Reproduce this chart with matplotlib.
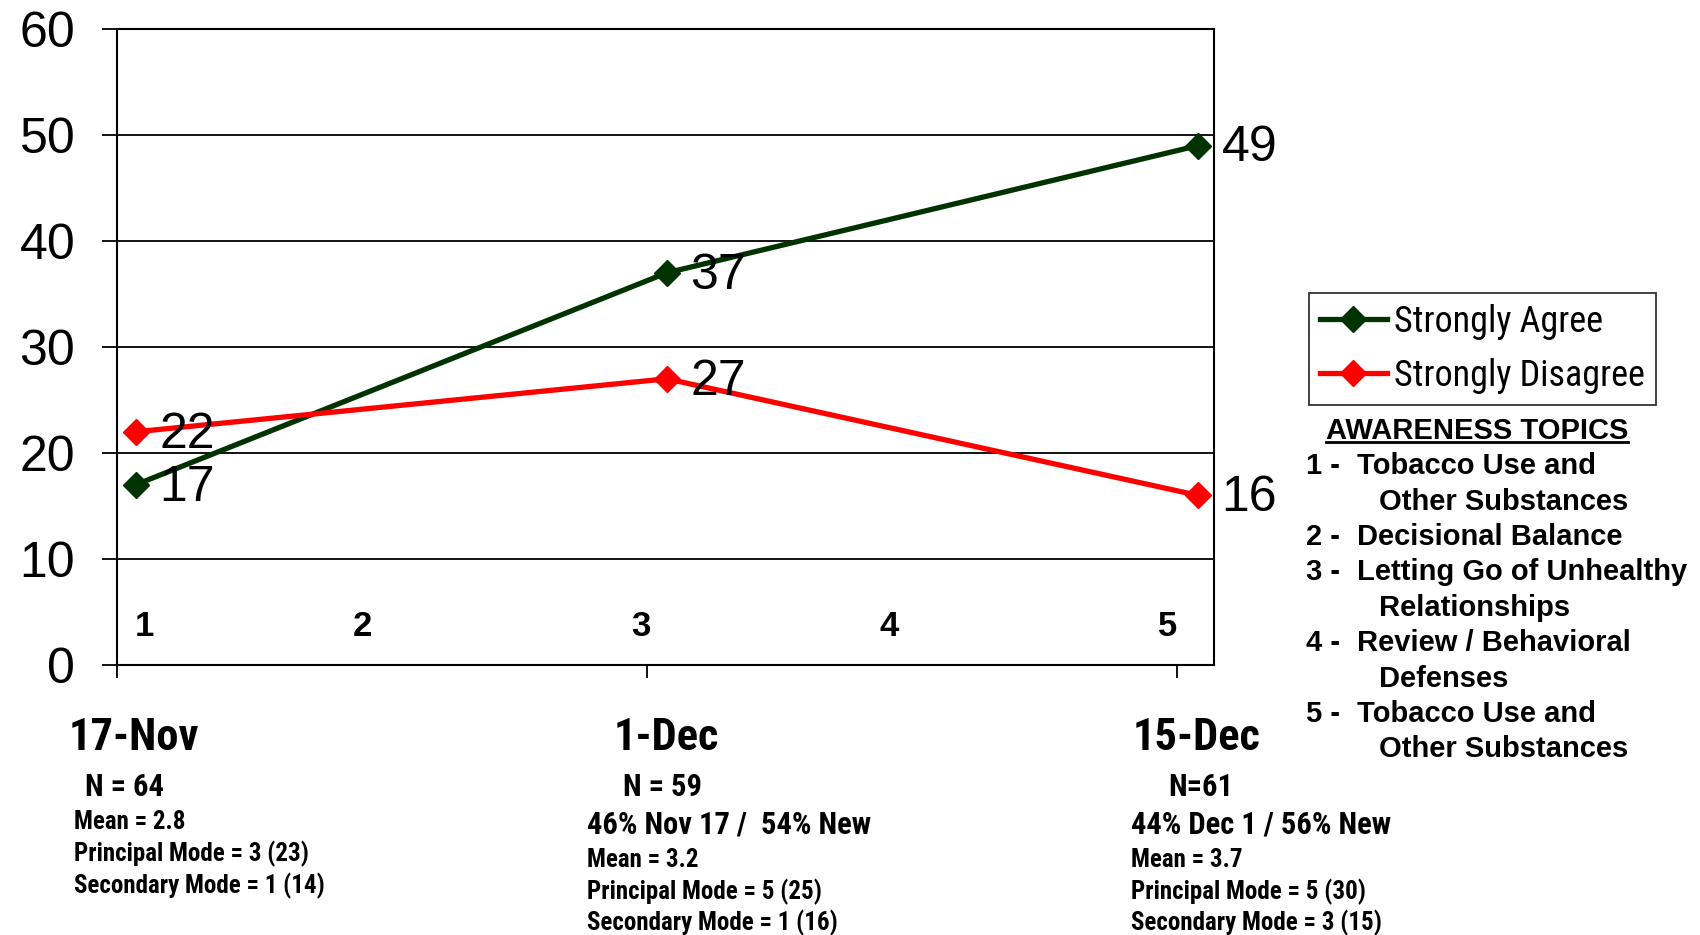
import matplotlib
matplotlib.use('Agg')
import matplotlib.pyplot as plt
from matplotlib import font_manager
from matplotlib.lines import Line2D

# -------------------- data --------------------
dates = ['17-Nov', '1-Dec', '15-Dec']
agree = [17, 37, 49]
disagree = [22, 27, 16]
topic_nums = ['1', '2', '3', '4', '5']
yticks = [0, 10, 20, 30, 40, 50, 60]

date_notes = [
    ['N = 64', 'Mean = 2.8', 'Principal Mode = 3 (23)', 'Secondary Mode = 1 (14)'],
    ['N = 59', '46% Nov 17 /  54% New', 'Mean = 3.2', 'Principal Mode = 5 (25)', 'Secondary Mode = 1 (16)'],
    ['N=61', '44% Dec 1 / 56% New', 'Mean = 3.7', 'Principal Mode = 5 (30)', 'Secondary Mode = 3 (15)'],
]
topics = [
    ('1 -', 'Tobacco Use and', 'Other Substances'),
    ('2 -', 'Decisional Balance', None),
    ('3 -', 'Letting Go of Unhealthy', 'Relationships'),
    ('4 -', 'Review / Behavioral', 'Defenses'),
    ('5 -', 'Tobacco Use and', 'Other Substances'),
]

# -------------------- fonts --------------------
# narrow family with a real bold face (Arial Narrow look-alike)
bold_names = {f.name for f in font_manager.fontManager.ttflist
              if isinstance(f.weight, int) and f.weight >= 700 or f.weight == 'bold'}
names = {f.name for f in font_manager.fontManager.ttflist}
narrow_pref = ['Liberation Sans Narrow', 'Arial Narrow', 'Archivo Narrow', 'Roboto Condensed',
               'PT Sans Narrow', 'Fira Sans Condensed', 'IBM Plex Sans Condensed',
               'Encode Sans Condensed', 'Asap Condensed', 'Barlow Condensed']
NARROW = next((n for n in narrow_pref if n in bold_names), 'DejaVu Sans')
SANS = 'Liberation Sans' if 'Liberation Sans' in names else 'DejaVu Sans'
plt.rcParams['font.family'] = [SANS, 'DejaVu Sans']

W, H = 1700, 935
fig = plt.figure(figsize=(W / 100, H / 100), dpi=100)

def fx(px):
    return px / W

def fy(py):
    return 1 - py / H

ax = fig.add_axes([fx(117), fy(665), fx(1214) - fx(117), fy(29) - fy(665)])

GREEN = '#003300'
RED = '#ff0000'
xs = list(range(len(dates)))
ax.plot(xs, agree, color=GREEN, lw=3.8, marker='D', ms=13, label='Strongly Agree', zorder=3)
ax.plot(xs, disagree, color=RED, lw=3.8, marker='D', ms=13, label='Strongly Disagree', zorder=3)

for x, v in zip(xs, agree):
    ax.annotate(str(v), (x, v), xytext=(17, -2), textcoords='offset points',
                ha='left', va='center', fontsize=36)
for x, v in zip(xs, disagree):
    ax.annotate(str(v), (x, v), xytext=(17, -2), textcoords='offset points',
                ha='left', va='center', fontsize=36)

# x scale: points sit a little right of the tick marks
ax.set_xlim(-0.035, 2.03)
ax.set_ylim(0, 60)
ax.set_yticks(yticks)
ax.set_yticklabels([str(t) for t in yticks], fontsize=36)
ax.set_xticks([-0.035, 0.963, 1.961])
ax.set_xticklabels([])
ax.tick_params(axis='y', length=11, width=1.3, pad=19)
ax.tick_params(axis='x', length=9, width=1.3)
ax.grid(axis='y', color='black', lw=1.3)
for s in ax.spines.values():
    s.set_linewidth(1.5)

# topic numbers inside the plot
for xp, t in zip([0.016, 0.427, 0.951, 1.418, 1.943], topic_nums):
    ax.text(xp, 3.6, t, ha='center', va='center', fontsize=25, fontweight='bold')

leg = fig.legend(loc='upper left', bbox_to_anchor=(fx(1309), fy(293)), frameon=True,
                 fancybox=False, edgecolor='black', prop={'family': NARROW, 'size': 26},
                 handlelength=1.85, handletextpad=0.2, borderpad=0.3, labelspacing=0.5,
                 borderaxespad=0)
leg.get_frame().set_linewidth(1.3)

# date labels and notes under the plot
date_cx = [134, 666, 1197]
n_x = [85, 623, 1168]
note_x = [74, 587, 1131]
for i, d in enumerate(dates):
    fig.text(fx(date_cx[i]), fy(738), d, ha='center', va='center', family=NARROW,
             fontweight='bold', fontsize=32)
    notes = date_notes[i]
    fig.text(fx(n_x[i]), fy(787), notes[0], ha='left', va='center', family=NARROW,
             fontweight='bold', fontsize=22)
    rows = notes[1:]
    if len(rows) == 3:
        ys = [822, 854, 886]
        sizes = [18, 18, 18]
    else:
        ys = [825, 860, 892, 923]
        sizes = [22, 18, 18, 18]
    for y, s, t in zip(ys, sizes, rows):
        fig.text(fx(note_x[i]), fy(y), t, ha='left', va='center', family=NARROW,
                 fontweight='bold', fontsize=s)

# awareness topics block
title = fig.text(fx(1477), fy(431), 'AWARENESS TOPICS', ha='center', va='center',
                 fontweight='bold', fontsize=21)
fig.canvas.draw()
bb = title.get_window_extent().transformed(fig.transFigure.inverted())
fig.add_artist(Line2D([bb.x0, bb.x1], [bb.y0 + 0.003, bb.y0 + 0.003], transform=fig.transFigure,
                      color='black', lw=2))

row_y = [466, 502, 537, 572, 608, 643, 679, 714, 749]
r = 0
for num, line1, line2 in topics:
    fig.text(fx(1306), fy(row_y[r]), num, ha='left', va='center', fontweight='bold', fontsize=21)
    fig.text(fx(1357), fy(row_y[r]), line1, ha='left', va='center', fontweight='bold', fontsize=21)
    r += 1
    if line2:
        fig.text(fx(1379), fy(row_y[r]), line2, ha='left', va='center', fontweight='bold', fontsize=21)
        r += 1

fig.savefig('out.png', dpi=100)
